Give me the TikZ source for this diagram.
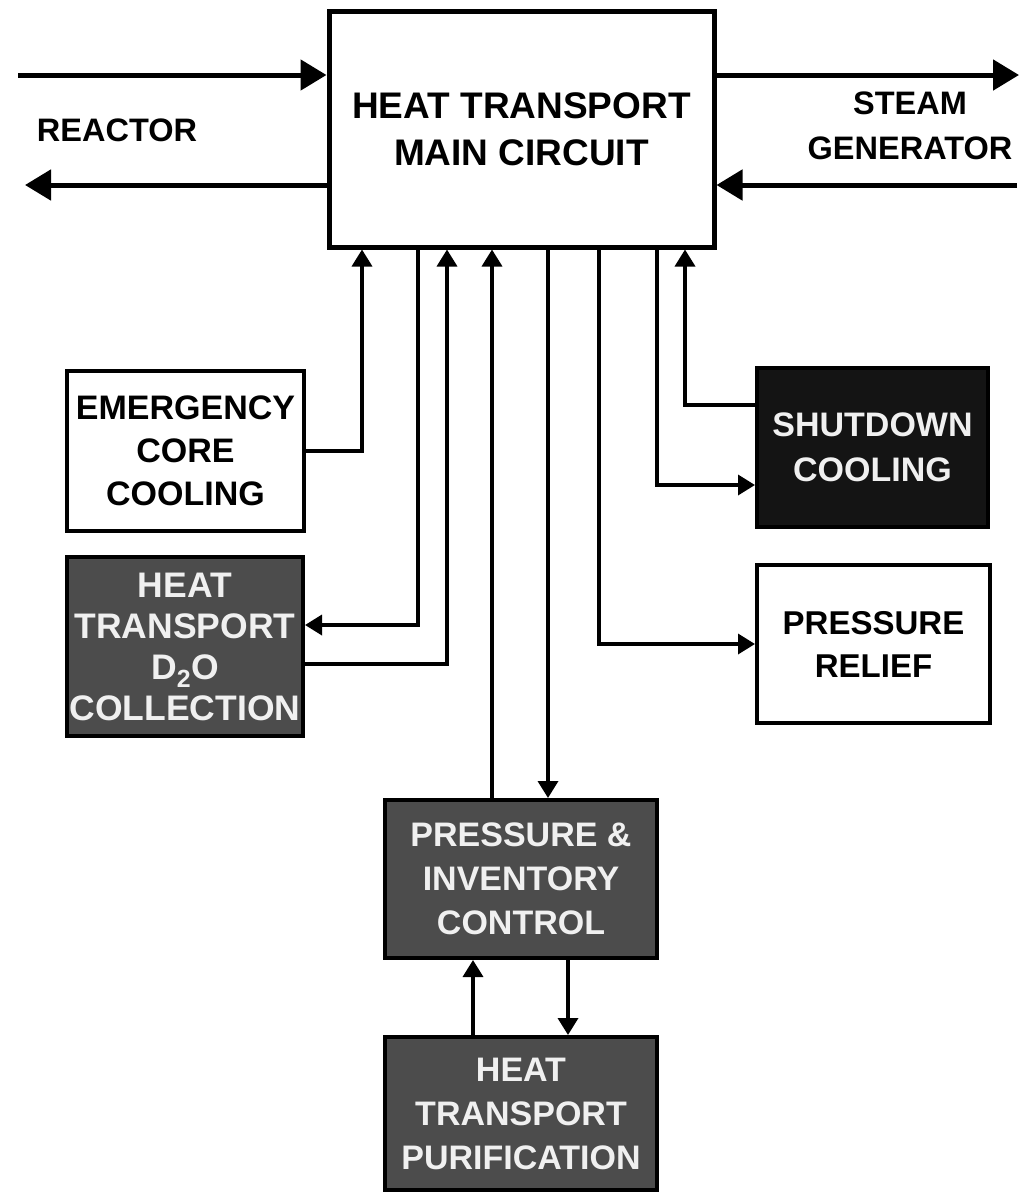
\documentclass[tikz,border=0pt]{standalone}
\usepackage{fontspec}
\setmainfont{Liberation Sans}
\usetikzlibrary{arrows.meta}
\begin{document}
\begin{tikzpicture}[x=1pt,y=-1pt,
  box/.style={draw=black,line width=4pt,rectangle,inner sep=0pt,align=center,font=\bfseries\fontsize{34}{43}\selectfont},
  darkbox/.style={box,fill=black!70,text=gray!12,font=\bfseries\fontsize{34}{44}\selectfont},
  conn/.style={line width=3.5pt,-{Triangle[length=17pt,width=20pt]}},
  big/.style={line width=5pt,-{Triangle[length=26pt,width=30pt]}},
  lbl/.style={align=center,inner sep=0pt,font=\bfseries\fontsize{32.5}{45}\selectfont}]
\useasboundingbox (0,0) rectangle (1021,1192);
% nodes
\node[box,line width=5pt,minimum width=385pt,minimum height=236pt,font=\bfseries\fontsize{37}{47}\selectfont] (main) at (521.5,129) {HEAT TRANSPORT\\MAIN CIRCUIT};
\node[box,minimum width=237pt,minimum height=160pt] (ecc) at (185.5,451) {EMERGENCY\\CORE\\COOLING};
\node[darkbox,minimum width=236pt,minimum height=179pt,font=\bfseries\fontsize{35.5}{41}\selectfont] (d2o) at (185,646.5) {HEAT\\TRANSPORT\\D\textsubscript{2}O\\COLLECTION};
\node[darkbox,fill=black!92,minimum width=231pt,minimum height=159pt,font=\bfseries\fontsize{34}{45}\selectfont] (sdc) at (872.5,447.5) {SHUTDOWN\\COOLING};
\node[box,minimum width=233pt,minimum height=158pt,font=\bfseries\fontsize{33}{43}\selectfont] (prl) at (873.5,644) {PRESSURE\\RELIEF};
\node[darkbox,minimum width=272pt,minimum height=158pt] (pic) at (521,879) {PRESSURE \&\\INVENTORY\\CONTROL};
\node[darkbox,minimum width=272pt,minimum height=153pt] (pur) at (521,1113.5) {\raisebox{4pt}{\parbox{272pt}{\centering HEAT\\TRANSPORT\\PURIFICATION}}};
\node[lbl] (reactor) at (117,130) {REACTOR};
\node[lbl] (steam) at (910,126) {STEAM\\GENERATOR};
% big arrows
\coordinate (rin) at (18,75);
\coordinate (rout) at (25,185);
\coordinate (sout) at (1019,75);
\coordinate (sin) at (1017,185);
\draw[big] (rin) -- (rin -| main.west);
\draw[big] (main.west |- rout) -- (rout);
\draw[big] (main.east |- sout) -- (sout);
\draw[big] (sin) -- (sin -| main.east);
% connectors
\draw[conn] (ecc.east) -| (362,0 |- main.south);
\draw[conn] (418,0 |- main.south) |- (d2o.east |- 0,625);
\draw[conn] (d2o.east |- 0,664) -| (447,0 |- main.south);
\draw[conn] (pic.north -| 492,0) -- (main.south -| 492,0);
\draw[conn] (main.south -| 548,0) -- (pic.north -| 548,0);
\draw[conn] (599,0 |- main.south) |- (prl.west);
\draw[conn] (657,0 |- main.south) |- (sdc.west |- 0,485);
\draw[conn] (sdc.west |- 0,405) -| (685,0 |- main.south);
\draw[conn] (pur.north -| 473,0) -- (pic.south -| 473,0);
\draw[conn] (pic.south -| 568,0) -- (pur.north -| 568,0);
\end{tikzpicture}
\end{document}
